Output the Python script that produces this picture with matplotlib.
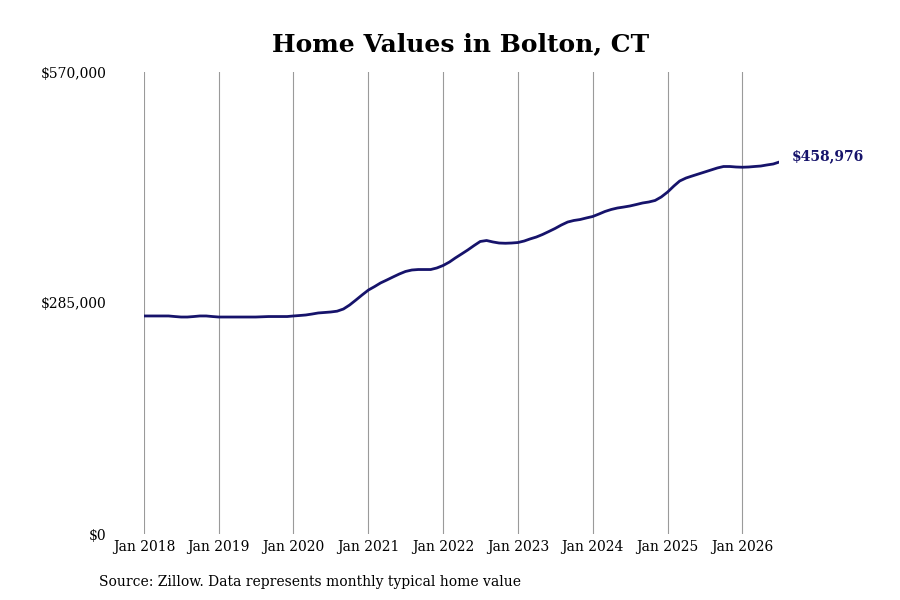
import pandas as pd
import matplotlib.pyplot as plt
import matplotlib.dates as mdates
from matplotlib.ticker import FuncFormatter

# Typical home value, monthly, Jan 2018 - Jul 2026
values = [
    # 2018
    269000, 269000, 269000, 269000, 269000, 268300, 267700, 267700, 268300, 269000, 269000, 268300,
    # 2019
    267700, 267700, 267700, 267700, 267700, 267700, 267700, 268000, 268300, 268300, 268300, 268300,
    # 2020
    269000, 269600, 270200, 271400, 272700, 273300, 273900, 274900, 277600, 282500, 288700, 294900,
    # 2021
    301000, 305400, 309700, 313400, 317100, 320800, 323900, 325700, 326300, 326300, 326300, 328200,
    # 2022
    331300, 335600, 340500, 345500, 350400, 355900, 360900, 362100, 360300, 359000, 358700, 359000,
    # 2023
    359600, 361500, 364000, 366400, 369500, 373200, 376900, 381200, 384900, 386800, 388000, 389900,
    # 2024
    391700, 394800, 397900, 400400, 402200, 403400, 404700, 406500, 408400, 409600, 411500, 415800,
    # 2025
    421900, 429400, 435500, 439200, 441700, 444200, 446600, 449100, 451600, 453400, 453400, 452800,
    # 2026
    452500, 452800, 453400, 454000, 455300, 456500, 458976,
]
dates = pd.date_range('2018-01-01', periods=len(values), freq='MS')

year_ticks = pd.date_range('2018-01-01', '2026-01-01', freq='YS')
y_ticks = [0, 285000, 570000]

title = 'Home Values in Bolton, CT'
source = 'Source: Zillow. Data represents monthly typical home value'
line_color = '#16136b'

plt.rcParams['font.family'] = ['DejaVu Serif']

fig = plt.figure(figsize=(9, 6), dpi=100)
ax = fig.add_axes([0.16, 0.11, 0.866 - 0.16, 0.77])

ax.plot(dates, values, color=line_color, linewidth=2.0, solid_capstyle='round')

ax.set_xlim(dates[0], dates[-1])
ax.set_ylim(0, 570000)
ax.set_xticks(year_ticks)
ax.xaxis.set_major_formatter(mdates.DateFormatter('%b %Y'))
ax.set_yticks(y_ticks)
ax.yaxis.set_major_formatter(FuncFormatter(lambda v, p: '${:,.0f}'.format(v)))

ax.grid(axis='x', color='#9a9a9a', linewidth=0.8)
ax.set_axisbelow(True)
for s in ax.spines.values():
    s.set_visible(False)
ax.tick_params(axis='x', length=0, pad=4, labelsize=10)
ax.tick_params(axis='y', length=0, pad=27, labelsize=10)

ax.annotate('${:,.0f}'.format(values[-1]), xy=(dates[-1], values[-1]),
            xytext=(9, 4), textcoords='offset points', va='center', ha='left',
            fontsize=10, fontweight='bold', color=line_color, annotation_clip=False)

fig.text(0.512, 0.927, title, ha='center', va='center', fontsize=18, fontweight='bold')
fig.text(0.11, 0.03, source, ha='left', va='center', fontsize=10)

fig.savefig('out.png', dpi=100)
